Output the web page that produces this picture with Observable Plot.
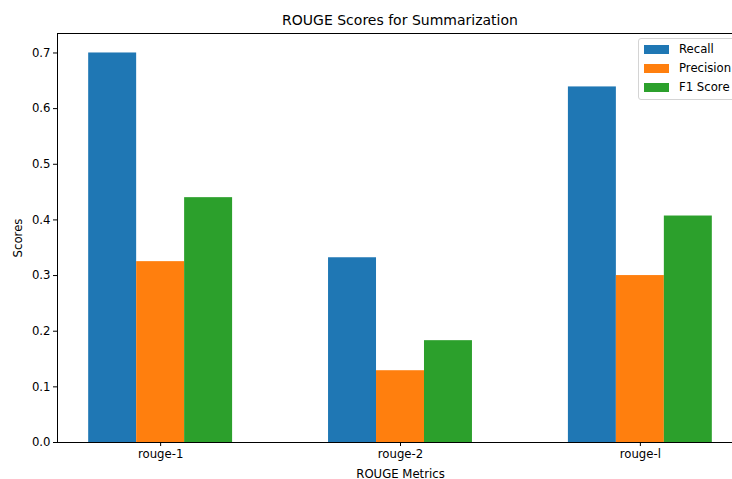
<!DOCTYPE html>
<html>
<head>
<meta charset="utf-8">
<script src="https://cdn.jsdelivr.net/npm/d3@7"></script>
<script src="https://cdn.jsdelivr.net/npm/@observablehq/plot@0.6"></script>
<style>
  html, body { margin: 0; padding: 0; background: #fff; overflow: hidden; width: 732px; height: 479px; }
  #wrap { position: relative; width: 732px; height: 479px; overflow: hidden; font-family: "DejaVu Sans", sans-serif; }
  #title { position: absolute; left: 0; top: 11px; width: 800px; text-align: center; font-size: 14px; color: #000; line-height: 18px; }
  #chart { position: absolute; left: 0; top: 27px; }
  #legend { position: absolute; left: 638px; top: 38px; width: 120px; height: 60px; border: 1px solid #d4d4d4; border-radius: 3px; background: rgba(255,255,255,0.8); font-size: 11.7px; }
  .item { position: absolute; left: 5px; height: 14px; display: flex; align-items: center; white-space: nowrap; }
  .sw { width: 25px; height: 9px; margin-right: 10px; }
</style>
</head>
<body>
<div id="wrap">
  <div id="title">ROUGE Scores for Summarization</div>
  <div id="chart"></div>
  <div id="legend"></div>
</div>
<script>
const categories = ["rouge-1", "rouge-2", "rouge-l"];
const seriesNames = ["Recall", "Precision", "F1 Score"];
const recall = [0.700, 0.332, 0.639];
const precision = [0.325, 0.129, 0.300];
const f1 = [0.440, 0.183, 0.407];
const colors = ["#1f77b4", "#ff7f0e", "#2ca02c"];
const yTicks = [0, 0.1, 0.2, 0.3, 0.4, 0.5, 0.6, 0.7];

const seriesValues = [recall, precision, f1];
const barWidth = 0.2;
const rows = [];
seriesValues.forEach((vals, s) => {
  vals.forEach((v, i) => {
    const c = i + (s - 1) * barWidth;
    rows.push({series: seriesNames[s], x1: c - barWidth / 2, x2: c + barWidth / 2, value: v});
  });
});

const plot = Plot.plot({
  width: 732,
  height: 452,
  marginLeft: 57,
  marginRight: -11,
  marginTop: 6,
  marginBottom: 37,
  style: {fontFamily: "DejaVu Sans, sans-serif", fontSize: "11.7px", color: "#000", background: "transparent", overflow: "hidden"},
  x: {domain: [-0.43, 2.43], ticks: [0, 1, 2], tickFormat: i => categories[i], label: "ROUGE Metrics", labelAnchor: "center", labelArrow: "none", labelOffset: 35, tickSize: 4, tickPadding: 3},
  y: {domain: [0, 0.735], ticks: yTicks, tickFormat: d3.format(".1f"), label: "Scores", labelAnchor: "center", labelArrow: "none", labelOffset: 44, tickSize: 4, tickPadding: 3},
  color: {domain: seriesNames, range: colors},
  marks: [
    Plot.rectY(rows, {x1: "x1", x2: "x2", y1: 0, y2: "value", fill: "series"}),
    Plot.frame({stroke: "#000", strokeWidth: 1})
  ]
});
document.getElementById("chart").appendChild(plot);

const legend = document.getElementById("legend");
seriesNames.forEach((name, s) => {
  const item = document.createElement("div");
  item.className = "item";
  item.style.top = (3 + s * 19) + "px";
  const sw = document.createElement("div");
  sw.className = "sw";
  sw.style.background = colors[s];
  const label = document.createElement("span");
  label.textContent = name;
  item.appendChild(sw);
  item.appendChild(label);
  legend.appendChild(item);
});
</script>
</body>
</html>
